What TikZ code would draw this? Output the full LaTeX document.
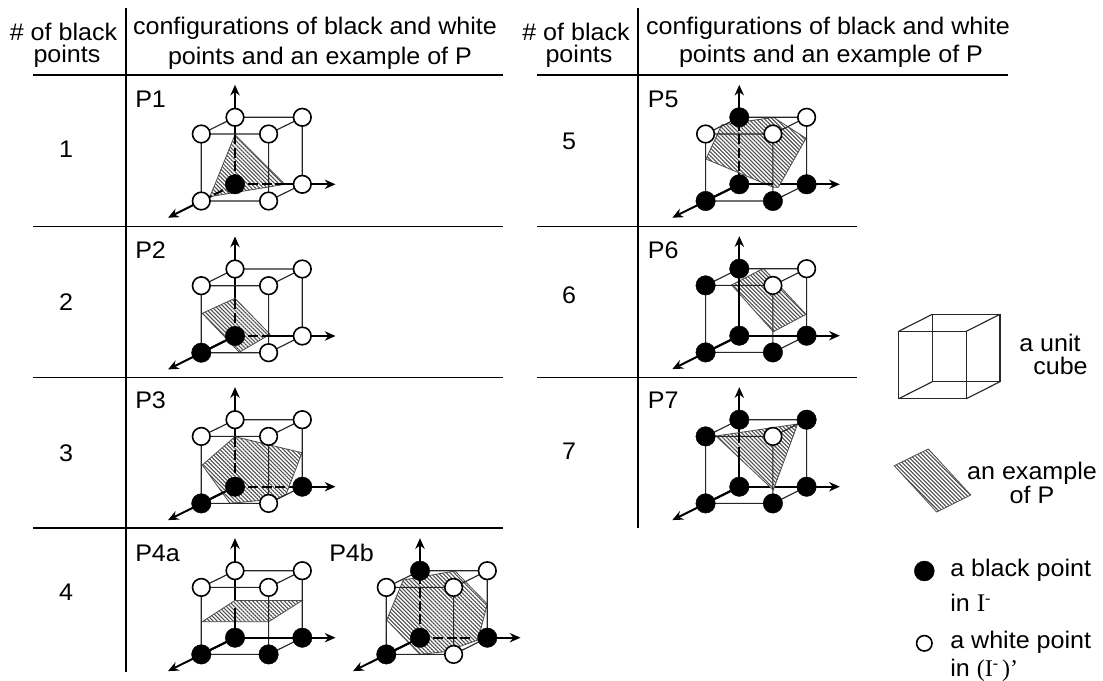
\documentclass[tikz,border=0pt]{standalone}
\usepackage{fontspec}
\setmainfont[FakeStretch=1.045]{Liberation Sans}
\newfontfamily\serifI{Liberation Serif}
\usetikzlibrary{patterns.meta,arrows.meta}
\tikzset{
  x=0.75pt,y=-0.75pt,
  hatchfill/.style={pattern={Lines[angle=-45,distance=2.1pt,line width=0.8pt]},pattern color=black!70},
  patch/.style={draw=black!70,line width=0.6pt},
  cubeline/.style={line width=0.85pt,black!85},
  axis/.style={line width=1.5pt,-{Stealth[length=8pt,width=7pt]}},
  axisline/.style={line width=1.5pt},
  hidden/.style={line width=1.5pt,dash pattern=on 7.5pt off 2.5pt},
  rule/.style={line width=0.8pt},
  hrule/.style={line width=1.5pt},
  vrule/.style={line width=1.2pt},
  lab/.style={font=\fontsize{18}{20}\selectfont,inner sep=0pt},
  blackpt/.style={circle,fill=black,draw=black,line width=0.3pt,minimum size=14.6pt,inner sep=0pt},
  whitept/.style={circle,fill=white,draw=black,line width=1.2pt,minimum size=13.2pt,inner sep=0pt},
}
% #1 shift, #2 polygon, #3 extra strokes over the polygon, #4 the eight points
\newcommand{\unitcube}[4]{%
\begin{scope}[shift={(#1)}]
  \coordinate (O) at (0,0); \coordinate (X) at (67.3,0);
  \coordinate (Y) at (-33.7,16.7); \coordinate (XY) at (33.6,16.7);
  \coordinate (Z) at (0,-67); \coordinate (XZ) at (67.3,-67);
  \coordinate (YZ) at (-33.7,-50.3); \coordinate (XYZ) at (33.6,-50.3);
  \coordinate (ZT) at (0,-99.5); \coordinate (XT) at (100.5,0); \coordinate (YT) at (-67,33.4);
  \draw[axis] (O) -- (ZT);
  \draw[axis] (O) -- (XT);
  \draw[axis] (O) -- (YT);
  \fill[white] #2 -- cycle;
  \fill[hatchfill] #2 -- cycle;
  \draw[patch] #2 -- cycle;
  \draw[cubeline] (Z) -- (XZ) -- (XYZ) -- (YZ) -- cycle;
  \draw[cubeline] (XY) -- (XYZ) (Y) -- (YZ) (X) -- (XZ) (Y) -- (XY) -- (X);
  #3
  \foreach \pp/\ss in {#4}{\node[\ss] at (\pp) {};}
\end{scope}}
\begin{document}
\begin{tikzpicture}
\useasboundingbox (0,0) rectangle (1103,681);
\fill[white] (0,0) rectangle (1103,681);
% table rules
\draw[vrule] (126,8) -- (126,672);
\draw[vrule] (638,8) -- (638,528);
\draw[hrule] (33,75.3) -- (503,75.3);
\draw[rule] (33,226.5) -- (503,226.5);
\draw[rule] (33,377.5) -- (503,377.5);
\draw[hrule] (33,528) -- (503,528);
\draw[hrule] (537,75.3) -- (1008,75.3);
\draw[rule] (537,226.5) -- (857,226.5);
\draw[rule] (537,377.5) -- (857,377.5);
% header
\node[lab] (h1) at (63.5,32) {\# of black};
\node[lab] (h2) at (67,56) {points};
\node[lab] (h3) at (315,28) {configurations of black and white};
\node[lab] (h4) at (320,58) {points and an example of P};
\node[lab] (h5) at (576,32) {\# of black};
\node[lab] (h6) at (579,56) {points};
\node[lab] (h7) at (828,28) {configurations of black and white};
\node[lab] (h8) at (831,56) {points and an example of P};
% row numbers
\node[lab] (n1) at (66,149) {1};
\node[lab] (n2) at (66,302) {2};
\node[lab] (n3) at (66,453) {3};
\node[lab] (n4) at (66,592) {4};
\node[lab] (n5) at (569,141) {5};
\node[lab] (n6) at (569,295) {6};
\node[lab] (n7) at (569,451) {7};
% labels
\node[lab,anchor=west] (p1) at (135,99) {P1};
\node[lab,anchor=west] (p2) at (135,250) {P2};
\node[lab,anchor=west] (p3) at (135,400) {P3};
\node[lab,anchor=west] (p4a) at (135,553) {P4a};
\node[lab,anchor=west] (p4b) at (329,553) {P4b};
\node[lab,anchor=west] (p5) at (647.5,99) {P5};
\node[lab,anchor=west] (p6) at (647.5,250) {P6};
\node[lab,anchor=west] (p7) at (647.5,400) {P7};
% cubes
\unitcube{235,184.3}{(0,-49.6) -- (49.8,0) -- (-25,12.3)}
  {\draw[hidden] (O) -- (0,-49.6); \draw[hidden] (O) -- (49.8,0); \draw[hidden] (O) -- (-25,12.3);}
  {O/blackpt,X/whitept,Y/whitept,XY/whitept,Z/whitept,XZ/whitept,YZ/whitept,XYZ/whitept}
\unitcube{235,336}{(0,-37.7) -- (35,-1.7) -- (4.3,16.3) -- (-32.7,-22.7)}
  {\draw[hidden] (O) -- (0,-37.7); \draw[hidden] (O) -- (35,0); \draw[axisline] (O) -- (Y);}
  {O/blackpt,X/whitept,Y/blackpt,XY/whitept,Z/whitept,XZ/whitept,YZ/whitept,XYZ/whitept}
\unitcube{235,486.7}{(0,-50) -- (67,-34) -- (51,8) -- (42,12) -- (-5,16.7) -- (-32.7,-21.7)}
  {\draw[hidden] (O) -- (0,-50); \draw[hidden] (O) -- (51,0); \draw[axisline] (O) -- (Y);}
  {O/blackpt,X/blackpt,Y/blackpt,XY/whitept,Z/whitept,XZ/whitept,YZ/whitept,XYZ/whitept}
\unitcube{235,637.7}{(0,-37.3) -- (67.3,-37.3) -- (33.7,-16) -- (-32.7,-16)}
  {\draw[axisline] (O) -- (0,-30); \draw[axisline] (O) -- (X); \draw[axisline] (O) -- (Y);}
  {O/blackpt,X/blackpt,Y/blackpt,XY/blackpt,Z/whitept,XZ/whitept,YZ/whitept,XYZ/whitept}
\unitcube{420,637.7}{(-16.7,-57.7) -- (35,-66.7) -- (67.3,-33.7) -- (58,2.3) -- (25,14) -- (0,16.7) -- (-33.3,-17.7)}
  {\draw[hidden] (O) -- (0,-60); \draw[hidden] (O) -- (52,0); \draw[axisline] (O) -- (Y);}
  {O/blackpt,X/blackpt,Y/blackpt,XY/whitept,Z/blackpt,XZ/whitept,YZ/whitept,XYZ/whitept}
\unitcube{739.3,184.3}{(-17.7,-59.3) -- (34,-67) -- (66.7,-46) -- (39,3) -- (34,3) -- (-33.3,-25.3)}
  {\draw[hidden] (O) -- (0,-60); \draw[axisline] (O) -- (34,0); \draw[axisline] (O) -- (Y);}
  {O/blackpt,X/blackpt,Y/blackpt,XY/blackpt,Z/blackpt,XZ/whitept,YZ/whitept,XYZ/whitept}
\unitcube{739.3,335.7}{(24,-67.3) -- (66.7,-21.3) -- (34,-4) -- (-7.7,-50.7)}
  {\draw[axisline] (O) -- (Z); \draw[axisline] (O) -- (Y);}
  {O/blackpt,X/blackpt,Y/blackpt,XY/blackpt,Z/blackpt,XZ/whitept,YZ/blackpt,XYZ/whitept}
\unitcube{739.3,486.7}{(-23.3,-50.7) -- (58.3,-62.7) -- (34,3.3)}
  {\draw[hidden] (0,-30) -- (0,-55); \draw[axisline] (O) -- (0,-30); \draw[axisline] (O) -- (Y);}
  {O/blackpt,X/blackpt,Y/blackpt,XY/blackpt,Z/blackpt,XZ/blackpt,YZ/blackpt,XYZ/whitept}
% legend
\draw[cubeline] (898.7,331.3) rectangle (966.3,398.7);
\draw[cubeline] (932.3,314.3) rectangle (1000,381.7);
\draw[cubeline] (898.7,331.3) -- (932.3,314.3) (966.3,331.3) -- (1000,314.3)
  (898.7,398.7) -- (932.3,381.7) (966.3,398.7) -- (1000,381.7);
\node[lab] (u1) at (1050,343) {a unit};
\node[lab] (u2) at (1060.5,366) {cube};
\fill[hatchfill] (928.3,449) -- (970.7,495) -- (936.7,512) -- (894.3,465.7) -- cycle;
\draw[patch] (928.3,449) -- (970.7,495) -- (936.7,512) -- (894.3,465.7) -- cycle;
\node[lab] (e1) at (1032,473) {an example};
\node[lab] (e2) at (1032,495) {of P};
\node[blackpt,minimum size=15pt] (bp) at (924.3,571) {};
\node[lab,anchor=west] (b1) at (950,570) {a black point};
\node[lab,anchor=west] (b2) at (950,603) {in {\serifI\fontsize{19}{19}\selectfont I\raisebox{6pt}{\fontsize{12}{12}\selectfont -}}};
\node[whitept,minimum size=11.6pt] (wp) at (924.3,643.3) {};
\node[lab,anchor=west] (w1) at (950,642) {a white point};
\node[lab,anchor=west] (w2) at (950,670) {in {\serifI\fontsize{18}{18}\selectfont (I\raisebox{6pt}{\fontsize{12}{12}\selectfont -}\,)’}};
\end{tikzpicture}
\end{document}
